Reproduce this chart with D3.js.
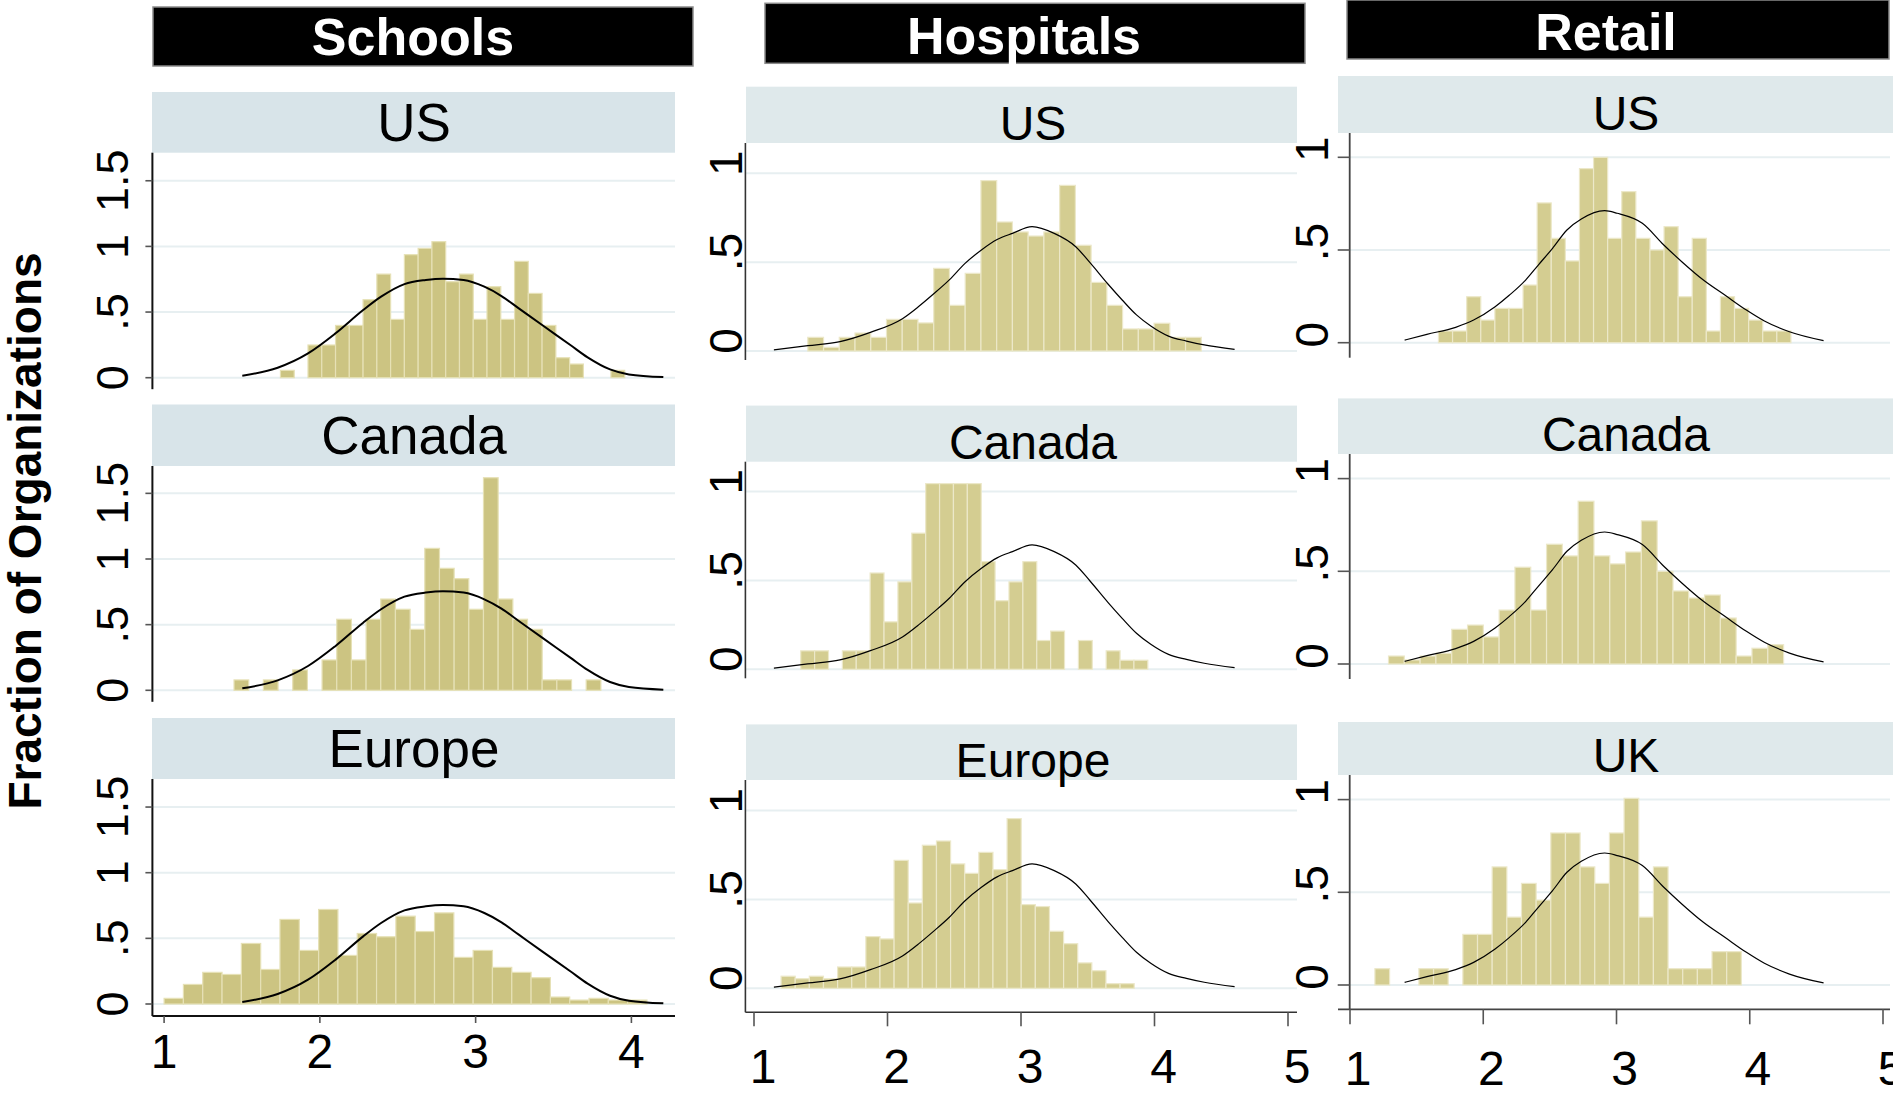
<!DOCTYPE html>
<html>
<head>
<meta charset="utf-8">
<script src="https://cdn.jsdelivr.net/npm/d3@7"></script>
<style>
  html, body { margin: 0; padding: 0; background: #ffffff; }
  svg { display: block; }
</style>
</head>
<body>
<svg id="chart" width="1893" height="1096"></svg>
<script>
// ---------------------------------------------------------------
// Data: histogram densities per region, with bin start and width,
// plus the reference density curve drawn in every panel of a sector.
// ---------------------------------------------------------------
const sectors = ["Schools", "Hospitals", "Retail"];
const schoolRegions = ["US", "Canada", "Europe"];
const hospitalRegions = ["US", "Canada", "Europe"];
const retailRegions = ["US", "Canada", "UK"];

const schoolsTicksX = [1, 2, 3, 4];
const otherTicksX = [1, 2, 3, 4, 5];
const schoolsTicksY = [0, 0.5, 1, 1.5];
const schoolsYLabels = ["0", ".5", "1", "1.5"];
const otherTicksY = [0, 0.5, 1];
const otherYLabels = ["0", ".5", "1"];

// Schools
const schoolsBinStart = [1.747, 1.449, 1.000];
const schoolsBinWidth = [0.0884, 0.0942, 0.124];
const schoolsUS = [0.056, 0, 0.249, 0.249, 0.398, 0.398, 0.594, 0.789, 0.444, 0.937, 0.985, 1.036, 0.731,
                   0.789, 0.444, 0.693, 0.444, 0.886, 0.642, 0.398, 0.152, 0.104, 0, 0, 0.056];
const schoolsCanada = [0.079, 0, 0.079, 0, 0.155, 0, 0.231, 0.541, 0.231, 0.541, 0.695, 0.617, 0.464,
                       1.081, 0.929, 0.850, 0.617, 1.619, 0.695, 0.541, 0.464, 0.079, 0.079, 0, 0.079];
const schoolsEurope = [0.043, 0.149, 0.241, 0.225, 0.461, 0.263, 0.644, 0.408, 0.720, 0.370, 0.537, 0.512,
                       0.669, 0.552, 0.694, 0.355, 0.408, 0.279, 0.241, 0.200, 0.053, 0.030, 0.043, 0.030, 0.030];
const schoolsCurveX = [1.502, 1.729, 1.924, 2.101, 2.278, 2.393, 2.543, 2.680, 2.790, 2.923, 3.056, 3.166,
                       3.277, 3.427, 3.608, 3.719, 3.863, 3.984, 4.205];
const schoolsCurveY = [0.015, 0.076, 0.185, 0.338, 0.515, 0.617, 0.713, 0.744, 0.754, 0.744, 0.693, 0.622,
                       0.528, 0.401, 0.249, 0.155, 0.063, 0.025, 0.005];

// Hospitals
const hospitalsBinStart = [1.403, 1.350, 1.203];
const hospitalsBinWidth = [0.1179, 0.104, 0.1058];
const hospitalsUS = [0.077, 0.021, 0.077, 0.101, 0.077, 0.178, 0.178, 0.158, 0.465, 0.257, 0.437, 0.959,
                     0.726, 0.670, 0.647, 0.670, 0.932, 0.595, 0.386, 0.257, 0.124, 0.124, 0.156, 0.077, 0.077];
const hospitalsCanada = [0.104, 0.104, 0, 0.104, 0.104, 0.542, 0.267, 0.492, 0.766, 1.045, 1.045, 1.045,
                         1.045, 0.606, 0.386, 0.492, 0.606, 0.162, 0.215, 0, 0.162, 0, 0.104, 0.051, 0.051];
const hospitalsEurope = [0.068, 0.054, 0.068, 0.054, 0.120, 0.120, 0.291, 0.278, 0.720, 0.480, 0.805, 0.829,
                         0.700, 0.647, 0.765, 0.668, 0.955, 0.471, 0.460, 0.321, 0.251, 0.143, 0.099, 0.026, 0.026];
const hospitalsCurveX = [1.149, 1.403, 1.644, 1.872, 2.112, 2.233, 2.342, 2.463, 2.581, 2.701, 2.821, 2.936,
                         3.083, 3.249, 3.410, 3.517, 3.651, 3.758, 3.865, 3.972, 4.105, 4.239, 4.373, 4.600];
const hospitalsCurveY = [0.006, 0.030, 0.053, 0.105, 0.182, 0.250, 0.319, 0.400, 0.493, 0.567, 0.627, 0.662,
                         0.700, 0.662, 0.587, 0.497, 0.377, 0.287, 0.203, 0.141, 0.084, 0.056, 0.034, 0.009];

// Retail
const retailBinStart = [1.664, 1.289, 1.187];
const retailBinWidth = [0.1058, 0.1186, 0.110];
const retailUS = [0.063, 0.063, 0.248, 0.122, 0.185, 0.185, 0.311, 0.754, 0.563, 0.441, 0.939, 1.000, 0.563,
                  0.815, 0.563, 0.500, 0.626, 0.248, 0.563, 0.063, 0.248, 0.185, 0.122, 0.063, 0.063];
const retailCanada = [0.043, 0.022, 0.043, 0.058, 0.187, 0.210, 0.146, 0.291, 0.522, 0.291, 0.646, 0.583,
                      0.878, 0.583, 0.540, 0.604, 0.772, 0.500, 0.394, 0.356, 0.372, 0.248, 0.043, 0.085, 0.104];
const retailUK = [0.088, 0, 0, 0.088, 0.088, 0, 0.273, 0.273, 0.637, 0.366, 0.548, 0.458, 0.820, 0.820,
                  0.637, 0.548, 0.820, 1.007, 0.366, 0.637, 0.088, 0.088, 0.088, 0.180, 0.180];
const retailCurveX = [1.410, 1.577, 1.793, 1.928, 2.089, 2.197, 2.318, 2.413, 2.520, 2.628, 2.736, 2.911,
                      3.005, 3.194, 3.355, 3.490, 3.652, 3.813, 3.975, 4.110, 4.298, 4.554];
const retailCurveY = [0.014, 0.045, 0.083, 0.122, 0.194, 0.257, 0.338, 0.419, 0.509, 0.608, 0.667, 0.712,
                      0.698, 0.644, 0.527, 0.437, 0.338, 0.257, 0.176, 0.117, 0.059, 0.011];

const yTitle = "Fraction of Organizations";

// ---------------------------------------------------------------
// Layout of the three sector columns (pixel geometry and styling)
// ---------------------------------------------------------------
const FONT = "'Liberation Sans', Arial, Helvetica, sans-serif";

const columns = [
  {
    name: sectors[0], regions: schoolRegions,
    bins: [schoolsUS, schoolsCanada, schoolsEurope],
    binStart: schoolsBinStart, binWidth: schoolsBinWidth,
    curveX: schoolsCurveX, curveY: schoolsCurveY,
    xTicks: schoolsTicksX, yTicks: schoolsTicksY, yLabels: schoolsYLabels,
    header: { x0: 153, x1: 693, y0: 7, y1: 66, textX: 413, baseline: 55 },
    strip: { x0: 152, x1: 675, tops: [92, 404.5, 718], bottoms: [152.7, 466, 779],
             textX: 414, font: 53, fill: "#d8e4e9", centered: true },
    plot: { axisX: 152.4, right: 675, zeros: [377.7, 690.3, 1004], unit: 131.3, axisExt: 11.5,
            xAxisY: 1016, xRange: [164.1, 631.4], xDomain: [1, 4], xAxisLeft: 152.4,
            xTickLen: 7, xLabelBaseline: 1068, xLabelDx: 0,
            yLabelX: 128, yLabelDy: 0, yTickLen: 7, yLabelFont: 45,
            axisColor: "#111", axisWidth: 2 },
    bar: { fill: "#ccc482", stroke: "#e6e1b6" }, curveWidth: 2
  },
  {
    name: sectors[1], regions: hospitalRegions,
    bins: [hospitalsUS, hospitalsCanada, hospitalsEurope],
    binStart: hospitalsBinStart, binWidth: hospitalsBinWidth,
    curveX: hospitalsCurveX, curveY: hospitalsCurveY,
    xTicks: otherTicksX, yTicks: otherTicksY, yLabels: otherYLabels,
    header: { x0: 765, x1: 1305, y0: 3.3, y1: 63.3, textX: 1024, baseline: 54 },
    strip: { x0: 746, x1: 1297, tops: [86.7, 405.6, 724.4], bottoms: [143, 461.7, 780],
             textX: 1033, font: 48, fill: "#dfe9eb", centered: false },
    plot: { axisX: 745.4, right: 1297, zeros: [351, 669.3, 988.3], unit: 177.7, axisExt: 9,
            xAxisY: 1012.3, xRange: [754, 1288], xDomain: [1, 5], xAxisLeft: 745.4,
            xTickLen: 14, xLabelBaseline: 1083, xLabelDx: 9,
            yLabelX: 742, yLabelDy: -10, yTickLen: 0, yLabelFont: 46,
            axisColor: "#333", axisWidth: 1.6 },
    bar: { fill: "#d4cd91", stroke: "#ece8c9" }, curveWidth: 1.2
  },
  {
    name: sectors[2], regions: retailRegions,
    bins: [retailUS, retailCanada, retailUK],
    binStart: retailBinStart, binWidth: retailBinWidth,
    curveX: retailCurveX, curveY: retailCurveY,
    xTicks: otherTicksX, yTicks: otherTicksY, yLabels: otherYLabels,
    header: { x0: 1347, x1: 1889, y0: 0, y1: 59, textX: 1606, baseline: 50 },
    strip: { x0: 1338, x1: 1893, tops: [76, 398.4, 722], bottoms: [133, 454, 775],
             textX: 1626, font: 48, fill: "#dfe9eb", centered: false },
    plot: { axisX: 1349.7, right: 1890, zeros: [342.7, 664, 985], unit: 185.4, axisExt: 15,
            xAxisY: 1009.3, xRange: [1350, 1883], xDomain: [1, 5], xAxisLeft: 1338,
            xTickLen: 15, xLabelBaseline: 1085, xLabelDx: 8,
            yLabelX: 1328, yLabelDy: -8, yTickLen: 12, yLabelFont: 46,
            axisColor: "#444", axisWidth: 1.8 },
    bar: { fill: "#d4cd91", stroke: "#ece8c9" }, curveWidth: 1.2
  }
];

// ---------------------------------------------------------------
// Drawing
// ---------------------------------------------------------------
const svg = d3.select("#chart");
svg.append("rect").attr("width", 1893).attr("height", 1096).attr("fill", "#ffffff");

// Shared y-axis title
svg.append("text")
  .attr("transform", "translate(41,531) rotate(-90)")
  .attr("text-anchor", "middle")
  .attr("font-family", FONT).attr("font-weight", "bold").attr("font-size", 46)
  .attr("fill", "#000")
  .text(yTitle);

columns.forEach(col => {
  const g = svg.append("g").attr("class", "sector");
  const P = col.plot;

  // Sector header bar
  g.append("rect")
    .attr("x", col.header.x0).attr("y", col.header.y0)
    .attr("width", col.header.x1 - col.header.x0).attr("height", col.header.y1 - col.header.y0)
    .attr("fill", "#000").attr("stroke", "#8a8a8a").attr("stroke-width", 1.5);
  g.append("text")
    .attr("x", col.header.textX).attr("y", col.header.baseline)
    .attr("text-anchor", "middle")
    .attr("font-family", FONT).attr("font-weight", "bold").attr("font-size", 52)
    .attr("fill", "#fff")
    .text(col.name);

  const x = d3.scaleLinear().domain(P.xDomain).range(P.xRange);

  col.regions.forEach((region, r) => {
    const zero = P.zeros[r];
    const y = d3.scaleLinear().domain([0, 1]).range([zero, zero - P.unit]);
    const pg = g.append("g").attr("class", "panel");
    const top = col.strip.bottoms[r];

    // Region strip
    pg.append("rect")
      .attr("x", col.strip.x0).attr("y", col.strip.tops[r])
      .attr("width", col.strip.x1 - col.strip.x0)
      .attr("height", col.strip.bottoms[r] - col.strip.tops[r])
      .attr("fill", col.strip.fill);
    const stripBase = col.strip.centered
      ? (col.strip.tops[r] + col.strip.bottoms[r]) / 2 + col.strip.font * 0.35
      : col.strip.bottoms[r] - 3;
    pg.append("text")
      .attr("x", col.strip.textX).attr("y", stripBase)
      .attr("text-anchor", "middle")
      .attr("font-family", FONT).attr("font-size", col.strip.font)
      .attr("fill", "#000")
      .text(region);

    // Gridlines
    pg.selectAll("line.grid").data(col.yTicks).join("line")
      .attr("class", "grid")
      .attr("x1", P.axisX).attr("x2", P.right)
      .attr("y1", d => y(d)).attr("y2", d => y(d))
      .attr("stroke", "#e7eff1").attr("stroke-width", 2);

    // Histogram bars
    const start = col.binStart[r], w = col.binWidth[r];
    const binData = col.bins[r].map((h, i) => ({ x0: start + i * w, x1: start + (i + 1) * w, h }))
      .filter(d => d.h > 0);
    pg.selectAll("rect.bar").data(binData).join("rect")
      .attr("class", "bar")
      .attr("x", d => x(d.x0))
      .attr("width", d => x(d.x1) - x(d.x0))
      .attr("y", d => y(d.h))
      .attr("height", d => y(0) - y(d.h))
      .attr("fill", col.bar.fill)
      .attr("stroke", col.bar.stroke).attr("stroke-width", 1.2);

    // Reference density curve
    const pts = col.curveX.map((v, i) => [v, col.curveY[i]]);
    pg.append("path")
      .datum(pts)
      .attr("fill", "none")
      .attr("stroke", "#000")
      .attr("stroke-width", col.curveWidth)
      .attr("d", d3.line().x(d => x(d[0])).y(d => y(d[1])).curve(d3.curveMonotoneX));

    // Y axis line, ticks and labels
    const isLast = r === col.regions.length - 1;
    const axisBottom = isLast ? P.xAxisY : zero + P.axisExt;
    pg.append("line")
      .attr("x1", P.axisX).attr("x2", P.axisX)
      .attr("y1", top).attr("y2", axisBottom)
      .attr("stroke", P.axisColor).attr("stroke-width", P.axisWidth);
    if (P.yTickLen > 0) {
      pg.selectAll("line.ytick").data(col.yTicks).join("line")
        .attr("class", "ytick")
        .attr("x1", P.axisX - P.yTickLen).attr("x2", P.axisX)
        .attr("y1", d => y(d)).attr("y2", d => y(d))
        .attr("stroke", "#555").attr("stroke-width", 1.6);
    }
    pg.selectAll("text.ylab").data(col.yTicks).join("text")
      .attr("class", "ylab")
      .attr("transform", (d) => `translate(${P.yLabelX},${y(d) + P.yLabelDy}) rotate(-90)`)
      .attr("text-anchor", "middle")
      .attr("font-family", FONT).attr("font-size", P.yLabelFont)
      .attr("fill", "#000")
      .text((d, i) => col.yLabels[i]);

    // X axis on the bottom panel of each sector
    if (isLast) {
      pg.append("line")
        .attr("x1", P.xAxisLeft).attr("x2", P.right)
        .attr("y1", P.xAxisY).attr("y2", P.xAxisY)
        .attr("stroke", P.axisColor).attr("stroke-width", P.axisWidth);
      pg.selectAll("line.xtick").data(col.xTicks).join("line")
        .attr("class", "xtick")
        .attr("x1", d => x(d)).attr("x2", d => x(d))
        .attr("y1", P.xAxisY).attr("y2", P.xAxisY + P.xTickLen)
        .attr("stroke", "#555").attr("stroke-width", 1.6);
      pg.selectAll("text.xlab").data(col.xTicks).join("text")
        .attr("class", "xlab")
        .attr("x", d => x(d) + P.xLabelDx).attr("y", P.xLabelBaseline)
        .attr("text-anchor", "middle")
        .attr("font-family", FONT).attr("font-size", 48)
        .attr("fill", "#000")
        .text(d => d);
    }
  });
});
</script>
</body>
</html>
